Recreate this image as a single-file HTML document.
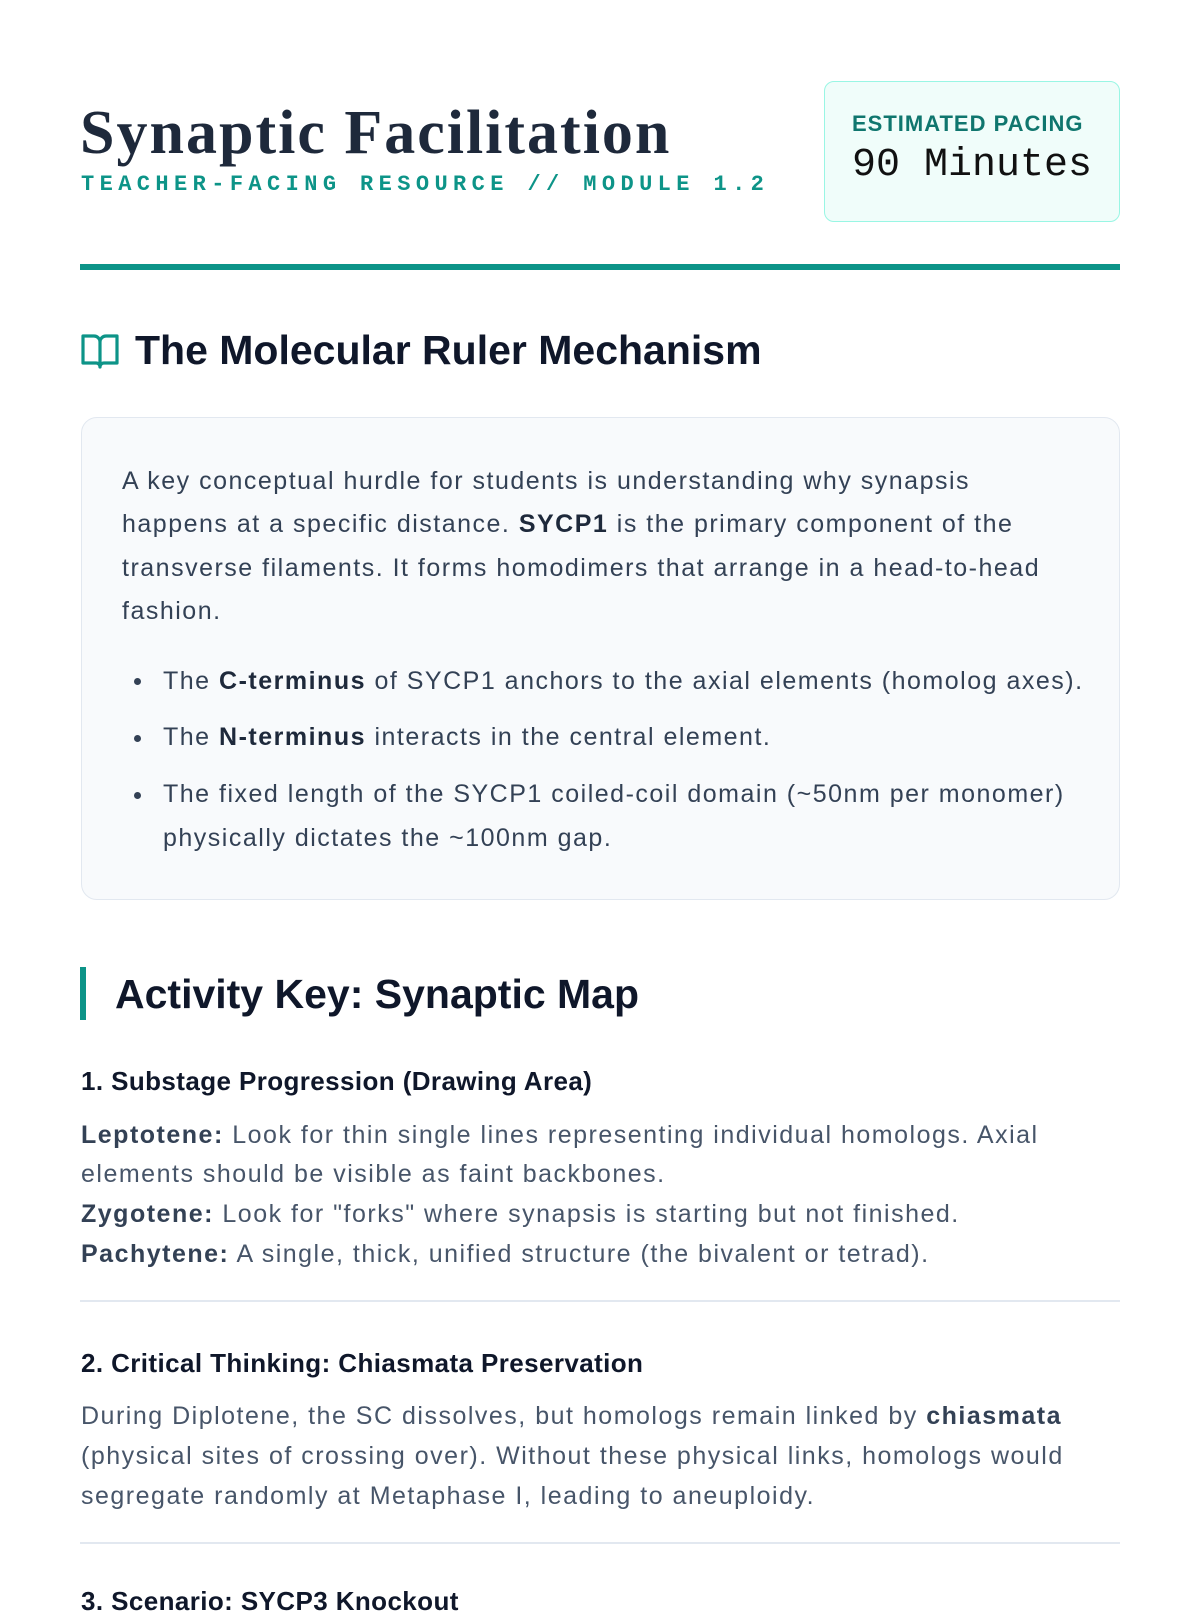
<!DOCTYPE html>
<html><head><meta charset="utf-8"><style>
*{margin:0;padding:0;box-sizing:border-box}
body{width:1200px;height:1600px;background:#fff;position:relative;overflow:hidden;font-family:"Liberation Sans",Arial,sans-serif;color:#334155}
.a{position:absolute;white-space:nowrap}
.t{font-family:"Liberation Serif",serif;font-weight:bold;font-size:62px;letter-spacing:2px;color:#1e293b;left:80px;top:98px;line-height:70px}
.sub{font-family:"Liberation Mono",monospace;font-weight:bold;font-size:22px;letter-spacing:5.4px;color:#0d9488;left:81px;top:171px;line-height:28px}
.pace{left:824px;top:81px;width:296px;height:141px;background:#f0fdfa;border:1.5px solid #99f6e4;border-radius:10px}
.p1{left:852px;top:111px;font-size:22px;font-weight:bold;color:#0f766e;line-height:26px;letter-spacing:1px}
.p2{left:852px;top:144px;font-family:"Liberation Mono",monospace;font-size:40px;color:#111;line-height:44px}
.hr{left:80px;top:264px;width:1040px;height:6px;background:#0d9488}
.h1{left:135px;top:326px;font-size:41px;font-weight:bold;color:#0f172a;line-height:48px}
.box{left:81px;top:417px;width:1039px;height:483px;background:#f8fafc;border:1.5px solid #e2e8f0;border-radius:16px}
.b{font-size:25px;letter-spacing:1.5px;color:#334155;line-height:30px}
.b b{color:#1e293b}
.dot{width:7px;height:7px;border-radius:50%;background:#334155}
.h2{left:115px;top:970px;font-size:41px;font-weight:bold;color:#0f172a;line-height:48px}
.bar{left:80px;top:967px;width:6px;height:53px;background:#0d9488}
.h3{font-size:26px;letter-spacing:0.4px;font-weight:bold;color:#0f172a;line-height:30px;left:81px}
.q{font-size:25px;letter-spacing:1.5px;color:#475569;line-height:30px;left:81px}
.q b{color:#334155}
.sep{left:80px;width:1040px;height:2px;background:#e2e8f0}
</style></head><body>
<div class="a t">Synaptic Facilitation</div>
<div class="a sub">TEACHER-FACING RESOURCE // MODULE 1.2</div>
<div class="a pace"></div>
<div class="a p1">ESTIMATED PACING</div>
<div class="a p2">90 Minutes</div>
<div class="a hr"></div>
<svg class="a" style="left:81px;top:333px" width="38" height="36" viewBox="0 0 38 36"><path d="M2 3h11a6 6 0 0 1 6 6v25a4 4 0 0 0-4-4H2z M36 3H25a6 6 0 0 0-6 6v25a4 4 0 0 1 4-4h13z" fill="none" stroke="#0d9488" stroke-width="3.2" stroke-linejoin="round"/></svg>
<div class="a h1">The Molecular Ruler Mechanism</div>
<div class="a box"></div>
<div class="a b" style="left:122px;top:466px">A key conceptual hurdle for students is understanding why synapsis</div>
<div class="a b" style="left:122px;top:509px">happens at a specific distance. <b>SYCP1</b> is the primary component of the</div>
<div class="a b" style="left:122px;top:553px">transverse filaments. It forms homodimers that arrange in a head-to-head</div>
<div class="a b" style="left:122px;top:596px">fashion.</div>
<div class="a dot" style="left:134px;top:678px"></div>
<div class="a b" style="left:163px;top:666px">The <b>C-terminus</b> of SYCP1 anchors to the axial elements (homolog axes).</div>
<div class="a dot" style="left:134px;top:735px"></div>
<div class="a b" style="left:163px;top:722px">The <b>N-terminus</b> interacts in the central element.</div>
<div class="a dot" style="left:134px;top:792px"></div>
<div class="a b" style="left:163px;top:779px">The fixed length of the SYCP1 coiled-coil domain (~50nm per monomer)</div>
<div class="a b" style="left:163px;top:823px">physically dictates the ~100nm gap.</div>
<div class="a bar"></div>
<div class="a h2">Activity Key: Synaptic Map</div>
<div class="a h3" style="top:1066px">1. Substage Progression (Drawing Area)</div>
<div class="a q" style="top:1120px"><b>Leptotene:</b> Look for thin single lines representing individual homologs. Axial</div>
<div class="a q" style="top:1159px">elements should be visible as faint backbones.</div>
<div class="a q" style="top:1199px"><b>Zygotene:</b> Look for "forks" where synapsis is starting but not finished.</div>
<div class="a q" style="top:1239px"><b>Pachytene:</b> A single, thick, unified structure (the bivalent or tetrad).</div>
<div class="a sep" style="top:1300px"></div>
<div class="a h3" style="top:1348px">2. Critical Thinking: Chiasmata Preservation</div>
<div class="a q" style="top:1401px">During Diplotene, the SC dissolves, but homologs remain linked by <b>chiasmata</b></div>
<div class="a q" style="top:1441px">(physical sites of crossing over). Without these physical links, homologs would</div>
<div class="a q" style="top:1481px">segregate randomly at Metaphase I, leading to aneuploidy.</div>
<div class="a sep" style="top:1542px"></div>
<div class="a h3" style="top:1586px">3. Scenario: SYCP3 Knockout</div>
</body></html>
